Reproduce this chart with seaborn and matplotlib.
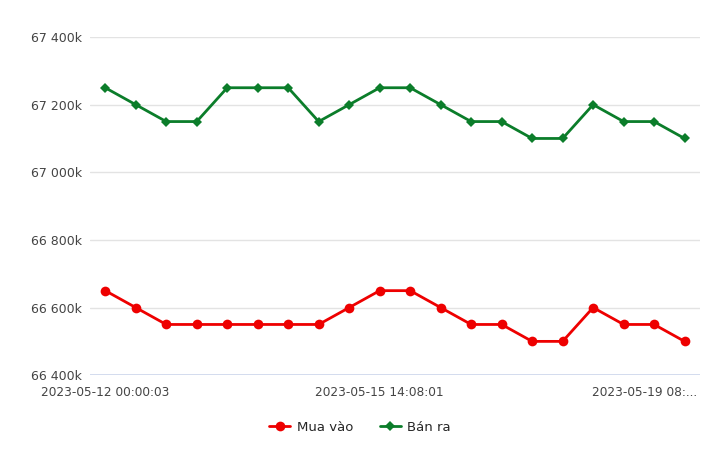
import matplotlib
matplotlib.use("Agg")
import matplotlib.pyplot as plt
import matplotlib.transforms as mtransforms
import seaborn as sns
import pandas as pd
import numpy as np

times = ["2023-05-12 00:00:03"] + [""] * 8 + ["2023-05-15 14:08:01"] + [""] * 8 + ["2023-05-19 08:..."] + [""]
mua_vao = [66650, 66600, 66550, 66550, 66550, 66550, 66550, 66550, 66600, 66650,
           66650, 66600, 66550, 66550, 66500, 66500, 66600, 66550, 66550, 66500]
ban_ra = [67250, 67200, 67150, 67150, 67250, 67250, 67250, 67150, 67200, 67250,
          67250, 67200, 67150, 67150, 67100, 67100, 67200, 67150, 67150, 67100]
yticks = [66400, 66600, 66800, 67000, 67200, 67400]
ytick_labels = ["66 400k", "66 600k", "66 800k", "67 000k", "67 200k", "67 400k"]

sns.set_theme(style="white")
plt.rcParams['font.family'] = ['DejaVu Sans']

fig = plt.figure(figsize=(7.2, 4.57), dpi=100)
ax = fig.add_axes([0.125, 0.179, 0.847, 0.74])

idx = np.arange(len(mua_vao))
df = pd.DataFrame({"i": idx, "Mua vào": mua_vao, "Bán ra": ban_ra})

sns.lineplot(data=df, x="i", y="Mua vào", ax=ax, color="#ee0000", marker="o",
             markersize=7, markeredgewidth=0, linewidth=2, label="Mua vào")
sns.lineplot(data=df, x="i", y="Bán ra", ax=ax, color="#0b7d2a", marker="D",
             markersize=5.5, markeredgewidth=0, linewidth=2, label="Bán ra")

ax.set_xlim(-0.5, 19.5)
ax.set_ylim(66400, 67400)
ax.set_yticks(yticks)
ax.set_yticklabels(ytick_labels, fontsize=9, color="#444444")
for y in yticks[1:]:
    ax.axhline(y, color="#e3e3e3", linewidth=1, zorder=0)
ax.axhline(66400, color="#ccd6eb", linewidth=1.2, zorder=0)

lab_pos = [i for i, t in enumerate(times) if t]
ax.set_xticks(lab_pos)
ax.set_xticklabels([times[i] for i in lab_pos], fontsize=8.7, color="#444444")
ax.tick_params(axis="y", length=0, pad=6)
ax.tick_params(axis="x", length=0, pad=8)
lbls = ax.get_xticklabels()
shift = mtransforms.ScaledTranslation(-10 / 100, 0, fig.dpi_scale_trans)
lbls[-1].set_transform(lbls[-1].get_transform() + shift)
ax.set_xlabel("")
ax.set_ylabel("")
for s in ax.spines.values():
    s.set_visible(False)

ax.get_legend().remove()
h, l = ax.get_legend_handles_labels()
fig.legend(h, l, loc="center", bbox_to_anchor=(0.5, 0.065), ncol=2, frameon=False,
           fontsize=9.5, handlelength=1.6, columnspacing=2.0, handletextpad=0.5)

fig.savefig("out.png", dpi=100, facecolor="white")
